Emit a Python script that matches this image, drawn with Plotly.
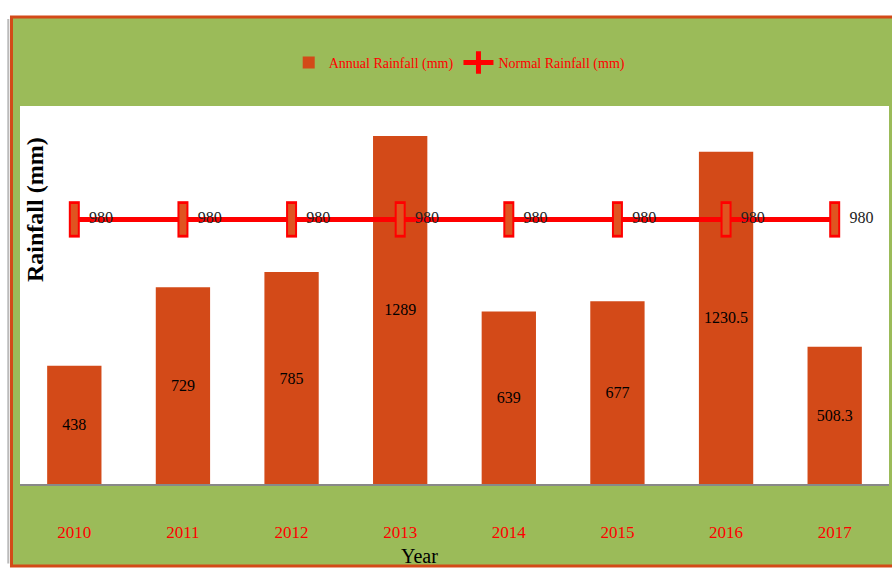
import plotly.graph_objects as go

years = ["2010", "2011", "2012", "2013", "2014", "2015", "2016", "2017"]
annual = [438, 729, 785, 1289, 639, 677, 1230.5, 508.3]
normal = [980, 980, 980, 980, 980, 980, 980, 980]
annual_labels = ["438", "729", "785", "1289", "639", "677", "1230.5", "508.3"]

GREEN = "#9BBB59"
ORANGE = "#D34A18"
RED = "#FF0000"
FONT = "Liberation Serif"

fig = go.Figure()
fig.add_trace(go.Bar(
    x=years, y=annual, name="Annual Rainfall (mm)",
    marker=dict(color=ORANGE, line=dict(width=0)),
    width=0.5,
    text=annual_labels, textposition="inside", insidetextanchor="middle",
    textfont=dict(family=FONT, size=16, color="black"),
    textangle=0,
))
fig.add_trace(go.Scatter(
    x=years, y=normal, name="Normal Rainfall (mm)", mode="lines+markers",
    line=dict(color=RED, width=5),
    marker=dict(symbol="line-ns", size=26, color=RED, line=dict(color=RED, width=11)),
))
fig.add_trace(go.Scatter(
    x=years, y=normal, mode="markers+text", showlegend=False,
    marker=dict(symbol="line-ns", size=22, color=ORANGE, line=dict(color="#E05420", width=7)),
    text=[str(v) for v in normal], textposition="middle right",
    textfont=dict(family=FONT, size=16, color="#222222"),
))

fig.update_layout(
    width=892, height=569,
    margin=dict(l=20, r=3, t=106, b=85),
    paper_bgcolor="white", plot_bgcolor="white",
    bargap=0.5,
    showlegend=True,
    legend=dict(orientation="h", x=0.506, xanchor="center", y=1.114, yanchor="middle",
                font=dict(family=FONT, size=14, color=RED), bgcolor="rgba(0,0,0,0)"),
    shapes=[
        dict(type="rect", xref="paper", yref="paper", x0=-0.0098, x1=1.014, y0=-0.217, y1=1.2354,
             fillcolor=GREEN, line=dict(color=ORANGE, width=3), layer="below"),
        dict(type="rect", xref="paper", yref="paper", x0=0, x1=1, y0=0, y1=1,
             fillcolor="white", line=dict(width=0), layer="below"),
        dict(type="line", xref="paper", yref="paper", x0=-0.0135, x1=-0.0135, y0=-0.21, y1=1.23,
             line=dict(color="#BBBBBB", width=2), layer="below"),
    ],
    xaxis=dict(range=[-0.5, 7.5], showline=True, linecolor="#888888", linewidth=2, showgrid=False,
               tickfont=dict(family=FONT, size=17, color=RED), ticks="",
               ticklabelstandoff=32, fixedrange=True),
    yaxis=dict(range=[0, 1400], showticklabels=False, showgrid=False, zeroline=False,
               showline=False, fixedrange=True),
    annotations=[
        dict(text="<b>Rainfall (mm)</b>", xref="paper", yref="paper", x=0.0173, y=0.725,
             textangle=-90, showarrow=False, xanchor="center", yanchor="middle",
             font=dict(family=FONT, size=24, color="black")),
        dict(text="Year", xref="paper", yref="paper", x=0.46, y=-0.19,
             showarrow=False, xanchor="center", yanchor="middle",
             font=dict(family=FONT, size=20, color="black")),
    ],
)

fig.write_html("out.html", config={"displayModeBar": False},
               post_script="document.body.style.margin='0px';")
